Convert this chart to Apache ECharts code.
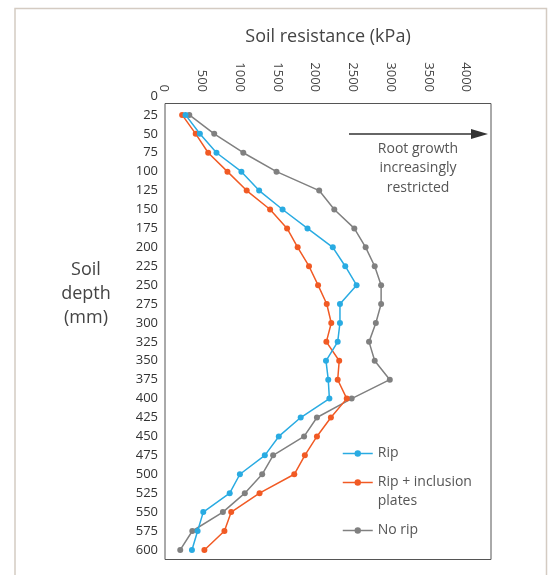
<!DOCTYPE html>
<html>
<head>
<meta charset="utf-8">
<script src="https://cdn.jsdelivr.net/npm/echarts@6/dist/echarts.min.js"></script>
<style>
html,body{margin:0;padding:0;background:#fff;}
#chart{width:553px;height:575px;}
</style>
</head>
<body>
<div id="chart"></div>
<script>
// Soil depth (mm) for each measurement
var depths = [25, 50, 75, 100, 125, 150, 175, 200, 225, 250, 275, 300, 325, 350, 375, 400, 425, 450, 475, 500, 525, 550, 575, 600];
// Soil resistance (kPa)
var rip = [285, 475, 695, 1025, 1260, 1570, 1900, 2235, 2400, 2550, 2330, 2330, 2300, 2145, 2175, 2190, 1810, 1520, 1335, 1005, 870, 520, 445, 370];
var ripPlates = [240, 420, 585, 840, 1095, 1405, 1630, 1770, 1920, 2040, 2155, 2215, 2150, 2320, 2300, 2420, 2210, 2025, 1865, 1725, 1265, 890, 800, 535];
var noRip = [335, 665, 1050, 1490, 2055, 2255, 2520, 2670, 2790, 2875, 2875, 2805, 2715, 2790, 2990, 2485, 2025, 1855, 1445, 1300, 1070, 780, 375, 215];
var seriesNames = ['Rip', 'Rip + inclusion plates', 'No rip'];
var xTicks = [0, 500, 1000, 1500, 2000, 2500, 3000, 3500, 4000];

function pairs(vals) { return depths.map(function (d, i) { return [vals[i], d]; }); }

var font = '"Open Sans", sans-serif';
var chart = echarts.init(document.getElementById('chart'));
var colors = ['#29abe2', '#f15a24', '#808080'];
var legendText = { fontSize: 14, color: '#555', lineHeight: 19, fontFamily: font };

chart.setOption({
  animation: false,
  textStyle: { fontFamily: font },
  grid: { left: 164, top: 96, width: 327, height: 463, containLabel: false },
  xAxis: {
    type: 'value', position: 'top', min: 0, max: 4330, interval: 500,
    axisLine: { show: false }, axisTick: { show: false }, splitLine: { show: false },
    axisLabel: {
      rotate: -90, margin: 4, fontSize: 13, color: '#444', fontFamily: font,
      formatter: function (v) { return xTicks.indexOf(v) >= 0 ? String(v) : ''; }
    }
  },
  yAxis: {
    type: 'value', inverse: true, min: 0, max: 612, interval: 25,
    axisLine: { show: false }, axisTick: { show: false }, splitLine: { show: false },
    axisLabel: {
      margin: 6, fontSize: 13, color: '#333', fontFamily: font,
      formatter: function (v) { return (v % 25 === 0) ? String(v) : ''; }
    }
  },
  legend: [
    { data: [seriesNames[0]], orient: 'vertical', left: 342, top: 444, padding: 0, itemWidth: 30, itemHeight: 8,
      lineStyle: { width: 1.5 }, textStyle: legendText },
    { data: [seriesNames[1]], orient: 'vertical', left: 342, top: 454, padding: 0, itemWidth: 30, itemHeight: 8,
      lineStyle: { width: 1.5 },
      formatter: function () { return ' \nRip + inclusion\nplates'; },
      textStyle: legendText },
    { data: [seriesNames[2]], orient: 'vertical', left: 342, top: 521, padding: 0, itemWidth: 30, itemHeight: 8,
      lineStyle: { width: 1.5 }, textStyle: legendText }
  ],
  series: [
    { name: seriesNames[0], type: 'line', data: pairs(rip), color: colors[0], symbol: 'circle', symbolSize: 6,
      lineStyle: { width: 1.5 }, z: 4 },
    { name: seriesNames[1], type: 'line', data: pairs(ripPlates), color: colors[1], symbol: 'circle', symbolSize: 6,
      lineStyle: { width: 1.5 }, z: 3 },
    { name: seriesNames[2], type: 'line', data: pairs(noRip), color: colors[2], symbol: 'circle', symbolSize: 6,
      lineStyle: { width: 1.5 }, z: 2 }
  ],
  graphic: [
    // outer frame
    { type: 'polyline', shape: { points: [[15, 580], [15, 8.5], [546.5, 8.5], [546.5, 580]] },
      style: { stroke: '#d4cbc2', lineWidth: 1.5, fill: null }, silent: true },
    // plot box
    { type: 'rect', shape: { x: 165, y: 103.5, width: 326, height: 456 },
      style: { stroke: '#555', lineWidth: 1, fill: null }, silent: true, z: 1 },
    // arrow
    { type: 'line', shape: { x1: 349, y1: 134, x2: 478, y2: 134 }, style: { stroke: '#333', lineWidth: 1.5 }, silent: true },
    { type: 'polygon', shape: { points: [[471, 129], [488, 134], [471, 139]] }, style: { fill: '#333' }, silent: true },
    { type: 'text', silent: true,
      style: { text: 'Root growth\nincreasingly\nrestricted', x: 418, y: 139, textAlign: 'center', fontSize: 14, lineHeight: 19.5, fill: '#555', fontFamily: font } },
    // titles
    { type: 'text', style: { text: 'Soil resistance (kPa)', x: 328, y: 37, textAlign: 'center', textVerticalAlign: 'middle', fontSize: 18, fill: '#444', fontFamily: font } },
    { type: 'text', style: { text: 'Soil\ndepth\n(mm)', x: 86, y: 258, textAlign: 'center', fontSize: 18, lineHeight: 24, fill: '#444', fontFamily: font } }
  ]
});
</script>
</body>
</html>
